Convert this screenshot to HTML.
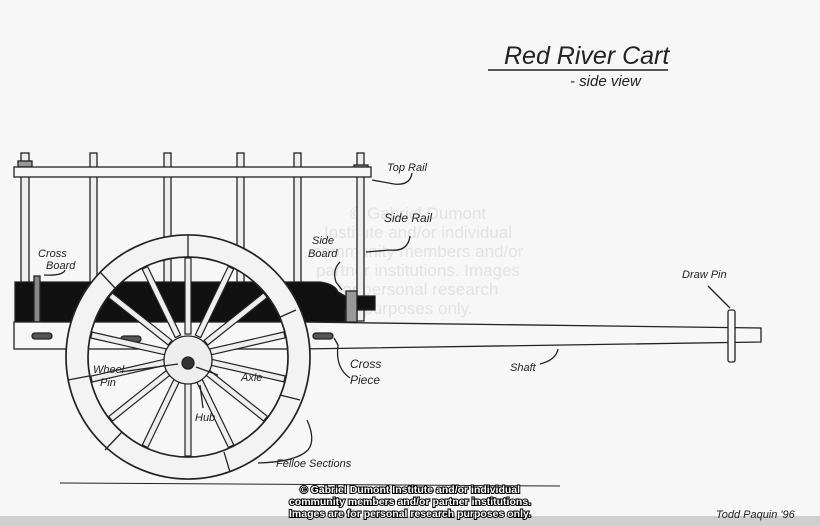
<!DOCTYPE html>
<html><head><meta charset="utf-8"><style>
html,body{margin:0;padding:0;background:#f7f7f7}
svg{display:block}
.h{font-family:"Liberation Sans",sans-serif;font-style:italic;fill:#222}
.w{font-family:"Liberation Sans",sans-serif;fill:#e2e2e2}
</style></head><body>
<svg width="820" height="526" viewBox="0 0 820 526" xmlns="http://www.w3.org/2000/svg">
<rect width="820" height="526" fill="#f7f7f7"/>
<rect y="516" width="820" height="10" fill="#cfcfcf"/>
<!-- watermark -->
<g class="w" font-size="17" text-anchor="middle">
<text x="418" y="219">© Gabriel Dumont</text>
<text x="418" y="238">Institute and/or individual</text>
<text x="418" y="257">community members and/or</text>
<text x="418" y="276">partner institutions. Images</text>
<text x="418" y="295">for personal research</text>
<text x="418" y="314">purposes only.</text>
</g>
<!-- title -->
<text x="504" y="64" class="h" font-size="25">Red River Cart</text>
<line x1="488" y1="70" x2="668" y2="70" stroke="#222" stroke-width="1.5"/>
<text x="570" y="86" class="h" font-size="15">- side view</text>
<g stroke="#222" stroke-width="1.3" fill="none">
<g fill="#eee">
<rect x="21" y="153" width="8" height="168"/>
<rect x="90" y="153" width="7" height="168"/>
<rect x="164" y="153" width="7" height="168"/>
<rect x="237" y="153" width="7" height="168"/>
<rect x="294" y="153" width="7" height="168"/>
<rect x="357" y="153" width="7" height="168"/>
</g>
<rect x="18" y="161" width="14" height="6" fill="#999"/>
<rect x="354" y="165" width="14" height="6" fill="#999"/>
<rect x="14" y="167" width="357" height="10" fill="#f7f7f7"/>
<path d="M15 282 L320 282 Q335 284 338 292 L345 296 L375 296 L375 310 L345 310 L345 322 L15 322 Z" fill="#111"/>
<rect x="34" y="276" width="6" height="46" fill="#888"/>
<rect x="346" y="291" width="11" height="31" fill="#999"/>
<rect x="14" y="322" width="296" height="27" fill="#f7f7f7"/>
<path d="M300 322 L761 328 L761 342 L300 349" fill="#f7f7f7"/>
<rect x="32" y="333" width="20" height="6" rx="3" fill="#555"/>
<rect x="121" y="336" width="20" height="6" rx="3" fill="#555"/>
<rect x="313" y="333" width="20" height="6" rx="3" fill="#555"/>
<rect x="728" y="310" width="7" height="52" rx="2" fill="#f7f7f7"/>
<!-- wheel ring -->
<path d="M66 357 A122 122 0 1 0 310 357 A122 122 0 1 0 66 357 Z M88 357 A100 100 0 1 1 288 357 A100 100 0 1 1 88 357 Z" fill="#f3f3f3" fill-rule="evenodd" stroke-width="1.7"/>
<g stroke-width="1.3">
<line x1="188" y1="235" x2="188" y2="257"/>
<line x1="296" y1="310" x2="278" y2="318"/>
<line x1="300" y1="400" x2="280" y2="395"/>
<line x1="230" y1="472" x2="224" y2="452"/>
<line x1="105" y1="450" x2="122" y2="432"/>
<line x1="68" y1="380" x2="89" y2="376"/>
<line x1="100" y1="272" x2="115" y2="288"/>
</g>
<g stroke="#222" stroke-width="1.2" fill="#eee">
<g transform="rotate(0 188 357)"><rect x="185" y="258" width="6" height="76"/></g>
<g transform="rotate(25.7 188 357)"><rect x="185" y="258" width="6" height="76"/></g>
<g transform="rotate(51.4 188 357)"><rect x="185" y="258" width="6" height="76"/></g>
<g transform="rotate(77.1 188 357)"><rect x="185" y="258" width="6" height="76"/></g>
<g transform="rotate(102.8 188 357)"><rect x="185" y="258" width="6" height="76"/></g>
<g transform="rotate(128.5 188 357)"><rect x="185" y="258" width="6" height="76"/></g>
<g transform="rotate(154.2 188 357)"><rect x="185" y="258" width="6" height="76"/></g>
<g transform="rotate(180 188 357)"><rect x="185" y="258" width="6" height="76"/></g>
<g transform="rotate(205.7 188 357)"><rect x="185" y="258" width="6" height="76"/></g>
<g transform="rotate(231.4 188 357)"><rect x="185" y="258" width="6" height="76"/></g>
<g transform="rotate(257.1 188 357)"><rect x="185" y="258" width="6" height="76"/></g>
<g transform="rotate(282.8 188 357)"><rect x="185" y="258" width="6" height="76"/></g>
<g transform="rotate(308.5 188 357)"><rect x="185" y="258" width="6" height="76"/></g>
<g transform="rotate(334.2 188 357)"><rect x="185" y="258" width="6" height="76"/></g>
</g>
<circle cx="188" cy="360" r="24" fill="#eee"/>
<circle cx="188" cy="363" r="6" fill="#333"/>
<line x1="60" y1="483" x2="560" y2="486" stroke-width="1"/>
<path d="M412 173 Q410 186 394 184 L372 180"/>
<path d="M410 236 Q408 252 390 250 L366 252"/>
<path d="M65 270 Q63 276 44 275"/>
<path d="M340 262 Q332 270 336 282 L342 290"/>
<path d="M350 378 Q335 368 338 345 L334 338"/>
<path d="M120 372 L178 364"/>
<path d="M218 375 L196 367"/>
<path d="M203 408 L200 385"/>
<path d="M307 420 Q316 440 308 450 Q296 462 258 463"/>
<path d="M540 364 Q556 360 558 349"/>
<path d="M708 286 L730 308"/>
</g>
<g class="h" font-size="11">
<text x="387" y="171">Top Rail</text>
<text x="384" y="222" font-size="12">Side Rail</text>
<text x="38" y="257">Cross</text><text x="46" y="269">Board</text>
<text x="312" y="244">Side</text><text x="308" y="257">Board</text>
<text x="350" y="368" font-size="12">Cross</text><text x="350" y="384" font-size="12">Piece</text>
<text x="93" y="373">Wheel</text><text x="100" y="386">Pin</text>
<text x="241" y="381">Axle</text>
<text x="195" y="421">Hub</text>
<text x="276" y="467">Felloe Sections</text>
<text x="510" y="371">Shaft</text>
<text x="682" y="278">Draw Pin</text>
<text x="716" y="518">Todd Paquin '96</text>
</g>
<g font-family="Liberation Sans,sans-serif" font-size="10.5" font-weight="bold" fill="#fff" stroke="#000" stroke-width="2" paint-order="stroke" text-anchor="middle">
<text x="410" y="493">© Gabriel Dumont Institute and/or individual</text>
<text x="410" y="505">community members and/or partner institutions.</text>
<text x="410" y="517">Images are for personal research purposes only.</text>
</g>
</svg>
</body></html>
